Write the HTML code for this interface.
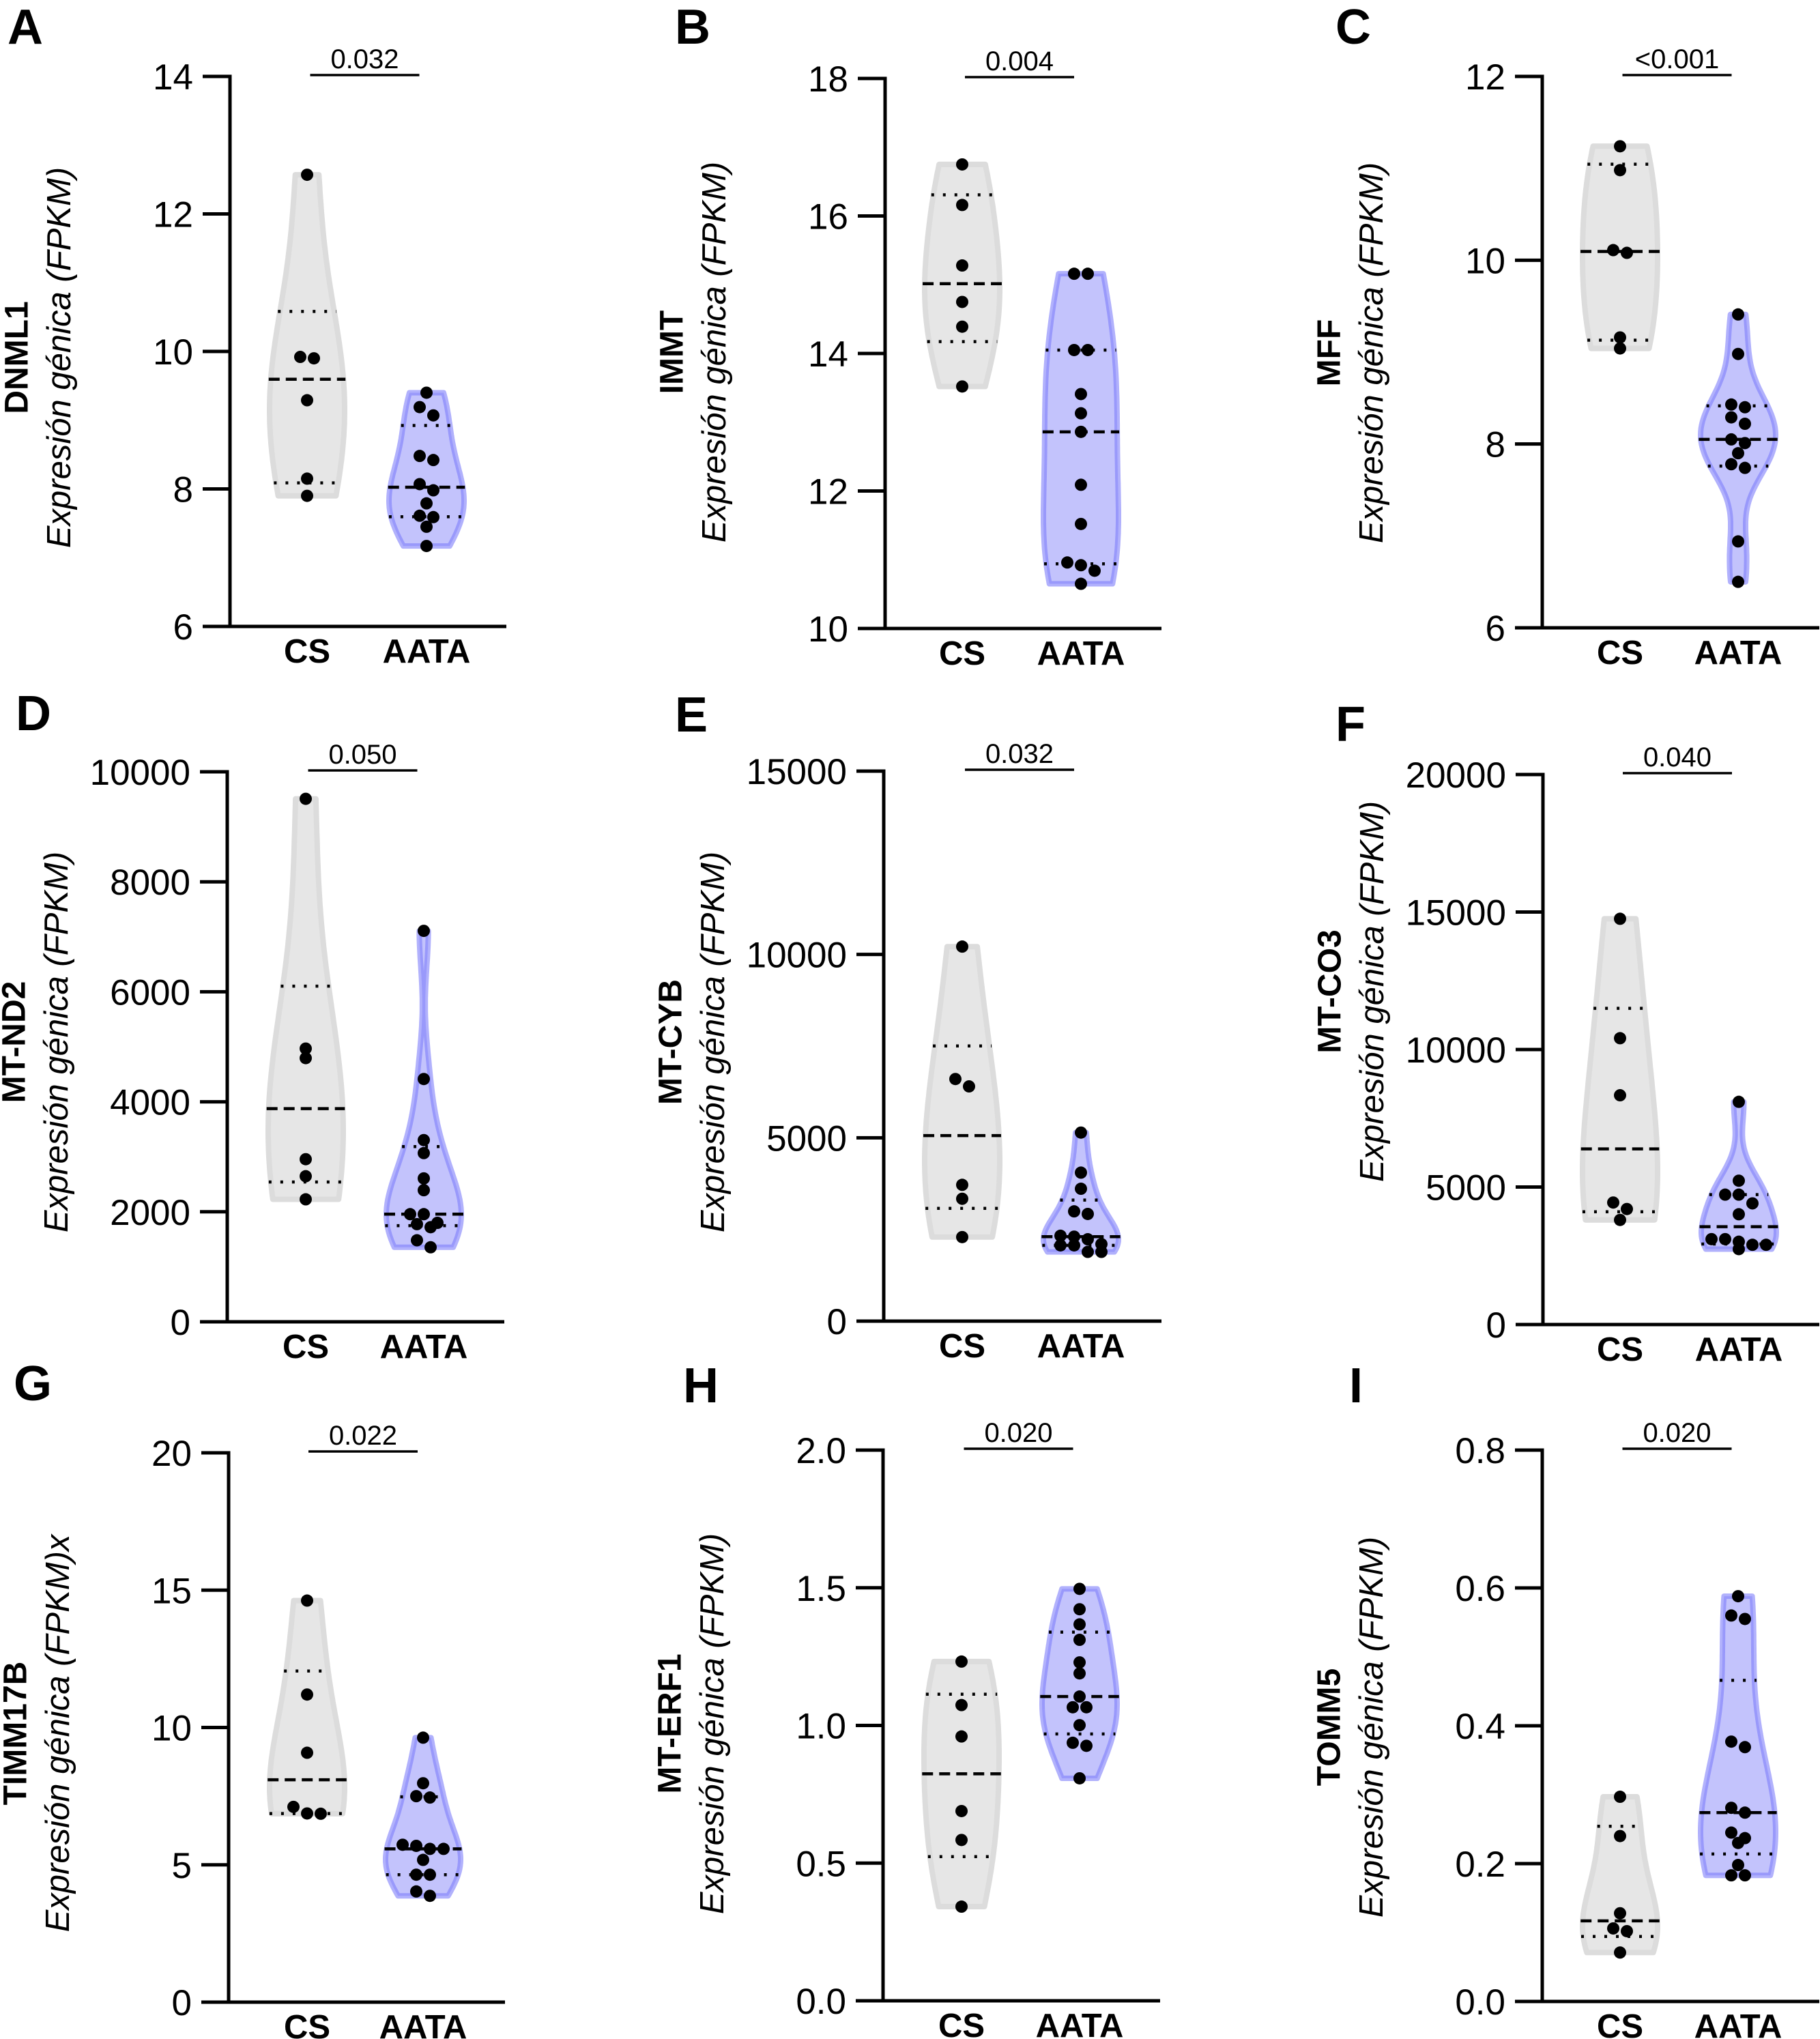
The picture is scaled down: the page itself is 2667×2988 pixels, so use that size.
<!DOCTYPE html>
<html><head><meta charset="utf-8"><title>Violin plots</title>
<style>
html,body{margin:0;padding:0;background:#fff;}
svg{display:block;font-family:"Liberation Sans",Arial,sans-serif;}
</style></head>
<body>
<svg id="fig" xmlns="http://www.w3.org/2000/svg" width="2667" height="2988" viewBox="0 0 2667 2988"></svg>
<script>
// ---- data ----
const categories = ["CS", "AATA"];
const csA = [12.57, 9.92, 9.90, 9.29, 8.15, 7.90];
const aataA = [9.40, 9.19, 9.07, 8.48, 8.42, 8.07, 7.98, 7.79, 7.61, 7.59, 7.45, 7.17];
const ticksA = [6, 8, 10, 12, 14];
const csB = [16.75, 16.16, 15.28, 14.75, 14.39, 13.52];
const aataB = [15.16, 15.16, 14.05, 14.05, 13.41, 13.13, 12.86, 12.09, 11.52, 10.96, 10.92, 10.84, 10.65];
const ticksB = [10, 12, 14, 16, 18];
const csC = [11.24, 10.98, 10.11, 10.08, 9.16, 9.04];
const aataC = [9.41, 8.98, 8.43, 8.40, 8.29, 8.22, 8.05, 8.01, 7.90, 7.78, 7.74, 6.94, 6.50];
const ticksC = [6, 8, 10, 12];
const csD = [9509, 4968, 4794, 2956, 2647, 2227];
const aataD = [7108, 4414, 3304, 3067, 2607, 2393, 1957, 1957, 1799, 1775, 1720, 1482, 1355];
const ticksD = [0, 2000, 4000, 6000, 8000, 10000];
const csE = [10214, 6603, 6401, 3717, 3337, 2292];
const aataE = [5142, 4050, 3610, 2993, 2922, 2328, 2304, 2233, 2100, 2066, 2066, 1888, 1888];
const ticksE = [0, 5000, 10000, 15000];
const csF = [14754, 10412, 8336, 4437, 4200, 3803];
const aataF = [8098, 5230, 4723, 4723, 4406, 4010, 3106, 3106, 3011, 2900, 2900, 2742];
const ticksF = [0, 5000, 10000, 15000, 20000];
const csG = [14.62, 11.20, 9.08, 7.11, 6.87, 6.86];
const aataG = [9.63, 7.97, 7.50, 7.45, 5.73, 5.69, 5.58, 5.58, 5.18, 4.64, 4.64, 4.03, 3.87];
const ticksG = [0, 5, 10, 15, 20];
const csH = [1.232, 1.074, 0.960, 0.689, 0.584, 0.342];
const aataH = [1.496, 1.422, 1.367, 1.311, 1.229, 1.189, 1.105, 1.066, 1.066, 1.001, 0.937, 0.926, 0.808];
const ticksH = [0.0, 0.5, 1.0, 1.5, 2.0];
const csI = [0.297, 0.240, 0.128, 0.106, 0.102, 0.071];
const aataI = [0.588, 0.560, 0.555, 0.377, 0.369, 0.281, 0.274, 0.245, 0.237, 0.230, 0.198, 0.183, 0.183];
const ticksI = [0.0, 0.2, 0.4, 0.6, 0.8];
const pValues = ["0.032", "0.004", "<0.001", "0.050", "0.032", "0.040", "0.022", "0.020", "0.020"];
const genes = ["DNML1", "IMMT", "MFF", "MT-ND2", "MT-CYB", "MT-CO3", "TIMM17B", "MT-ERF1", "TOMM5"];
const panelLetters = ["A", "B", "C", "D", "E", "F", "G", "H", "I"];

// ---- layout (pixels) ----
const layout = [
  {ax:337, top:112, bot:918, cs:450, aa:625, end:742, lx:11, ly:64, ty:524, dec:0},
  {ax:1297, top:115, bot:921, cs:1410, aa:1584, end:1702, lx:989, ly:64, ty:516, dec:0},
  {ax:2260, top:112, bot:920, cs:2374, aa:2547, end:2666, lx:1957, ly:64, ty:517, dec:0},
  {ax:333, top:1131, bot:1937, cs:448, aa:621, end:739, lx:23, ly:1070, ty:1527, dec:0},
  {ax:1295, top:1130, bot:1936, cs:1410, aa:1584, end:1702, lx:989, ly:1072, ty:1527, dec:0},
  {ax:2261, top:1135, bot:1941, cs:2374, aa:2548, end:2666, lx:1957, ly:1086, ty:1453, dec:0},
  {ax:335, top:2129, bot:2934, cs:450, aa:620, end:740, lx:20, ly:2052, ty:2540, dec:0},
  {ax:1294, top:2125, bot:2932, cs:1409, aa:1582, end:1700, lx:1001, ly:2055, ty:2526, dec:1},
  {ax:2260, top:2125, bot:2933, cs:2374, aa:2547, end:2666, lx:1977, ly:2055, ty:2531, dec:1}
];
const groupData = [[csA,aataA],[csB,aataB],[csC,aataC],[csD,aataD],[csE,aataE],[csF,aataF],[csG,aataG],[csH,aataH],[csI,aataI]];
const tickSets = [ticksA,ticksB,ticksC,ticksD,ticksE,ticksF,ticksG,ticksH,ticksI];

const NS = "http://www.w3.org/2000/svg";
const svg = document.getElementById("fig");
function mk(tag, attrs, parent) {
  const e = document.createElementNS(NS, tag);
  for (const k in attrs) e.setAttribute(k, attrs[k]);
  (parent || svg).appendChild(e);
  return e;
}
function quant(sorted, p) {
  const n = sorted.length, pos = (n + 1) * p;
  if (pos <= 1) return sorted[0];
  if (pos >= n) return sorted[n - 1];
  const i = Math.floor(pos), f = pos - i;
  return sorted[i - 1] + f * (sorted[i] - sorted[i - 1]);
}
function kdeFactory(vals) {
  const n = vals.length;
  const mean = vals.reduce((a, b) => a + b, 0) / n;
  const sd = Math.sqrt(vals.reduce((a, b) => a + (b - mean) * (b - mean), 0) / (n - 1));
  const s = vals.slice().sort((a, b) => a - b);
  const iqr = quant(s, 0.75) - quant(s, 0.25);
  let spread = Math.min(sd, iqr > 0 ? iqr / 1.34 : sd);
  if (!(spread > 0)) spread = sd || 1;
  const h = 1.1 * spread * Math.pow(n, -0.2);
  return v => vals.reduce((a, x) => a + Math.exp(-0.5 * ((v - x) / h) ** 2), 0);
}
const HALF = 55;

layout.forEach((L, pi) => {
  const g = mk("g", {});
  
  
  const ticks = tickSets[pi];
  const tmin = ticks[0], tmax = ticks[ticks.length - 1];
  const yS = v => L.bot - (v - tmin) / (tmax - tmin) * (L.bot - L.top);

  const let_ = mk("text", {x: L.lx, y: L.ly, "font-size": 72, "font-weight": "bold", fill: "#000"}, g);
  let_.textContent = panelLetters[pi];
  
  

  const gt = mk("text", {transform: `translate(${L.ax - 312},${L.ty}) rotate(-90)`, "text-anchor": "middle", "dominant-baseline": "central", "font-size": 48, "font-weight": "bold"}, g);
  gt.textContent = genes[pi];
  
  
  const it = mk("text", {transform: `translate(${L.ax - 250},${L.ty}) rotate(-90)`, "text-anchor": "middle", "dominant-baseline": "central", "font-size": 49, "font-style": "italic"}, g);
  it.textContent = pi === 6 ? "Expresión génica (FPKM)x" : "Expresión génica (FPKM)";
  
  

  const centers = [L.cs, L.aa];
  groupData[pi].forEach((vals, gi) => {
    const cx = centers[gi];
    const s = vals.slice().sort((a, b) => a - b);
    const mn = s[0], mx = s[s.length - 1];
    const kde = kdeFactory(vals);
    const N = 80;
    let dmax = 0; const pts = [];
    for (let i = 0; i <= N; i++) { const v = mn + (mx - mn) * i / N; const d = kde(v); pts.push([v, d]); if (d > dmax) dmax = d; }
    const half = v => HALF * kde(v) / dmax;
    let d = "";
    pts.forEach((p, i) => { d += (i ? "L" : "M") + (cx - HALF * p[1] / dmax).toFixed(1) + "," + yS(p[0]).toFixed(1); });
    for (let i = pts.length - 1; i >= 0; i--) { const p = pts[i]; d += "L" + (cx + HALF * p[1] / dmax).toFixed(1) + "," + yS(p[0]).toFixed(1); }
    d += "Z";
    const blue = gi === 1;
    const vp = mk("path", {d: d, fill: blue ? "#c3c3fc" : "#e6e6e6", stroke: blue ? "rgba(125,125,250,0.6)" : "#dcdcdc", "stroke-width": 8, "stroke-linejoin": "round"}, g);
    
    

    [[0.25, "dot"], [0.5, "dash"], [0.75, "dot"]].forEach(([p, kind]) => {
      const q = quant(s, p);
      const w = half(q) + 3;
      const ln = mk("line", {x1: cx - w, x2: cx + w, y1: yS(q), y2: yS(q), stroke: "#000", "stroke-width": 4.5,
        "stroke-dasharray": kind === "dash" ? "16 9" : "4 13"}, g);
      
      
    });

    const order = vals.map((v, i) => [v, i]).sort((a, b) => b[0] - a[0]);
    const clusters = [];
    order.forEach(o => {
      const c = clusters[clusters.length - 1];
      if (c && Math.abs(yS(c[0][0]) - yS(o[0])) < 14) c.push(o); else clusters.push([o]);
    });
    clusters.forEach(c => {
      c.forEach((o, k) => {
        const off = (k - (c.length - 1) / 2) * 20;
        const dot = mk("circle", {cx: cx + off, cy: yS(o[0]), r: 9, fill: "#000"}, g);
        
        
      });
    });
  });

  const yax = mk("line", {x1: L.ax, x2: L.ax, y1: L.top - 2.5, y2: L.bot + 2.5, stroke: "#000", "stroke-width": 5}, g);
  
  
  const xax = mk("line", {x1: L.ax - 40, x2: L.end, y1: L.bot, y2: L.bot, stroke: "#000", "stroke-width": 5}, g);
  
  
  ticks.forEach(t => {
    const y = yS(t);
    if (t !== tmin) {
      const tk = mk("line", {x1: L.ax - 40, x2: L.ax, y1: y, y2: y, stroke: "#000", "stroke-width": 5}, g);
      
      
    }
    const tl = mk("text", {x: L.ax - 54, y: y + 19, "text-anchor": "end", "font-size": 53}, g);
    tl.textContent = t.toFixed(L.dec);
    
    
  });
  categories.forEach((c, gi) => {
    const cl = mk("text", {x: centers[gi], y: L.bot + 53, "text-anchor": "middle", "font-size": 49, "font-weight": "bold"}, g);
    cl.textContent = c;
    
    
  });

  const mid = (L.cs + L.aa) / 2 - 3;
  const br = mk("line", {x1: mid - 80, x2: mid + 80, y1: L.top - 2, y2: L.top - 2, stroke: "#000", "stroke-width": 3.5}, g);
  
  
  const pv = mk("text", {x: mid, y: L.top - 12, "text-anchor": "middle", "font-size": 40}, g);
  pv.textContent = pValues[pi];
  
  
});
</script>
</body></html>
